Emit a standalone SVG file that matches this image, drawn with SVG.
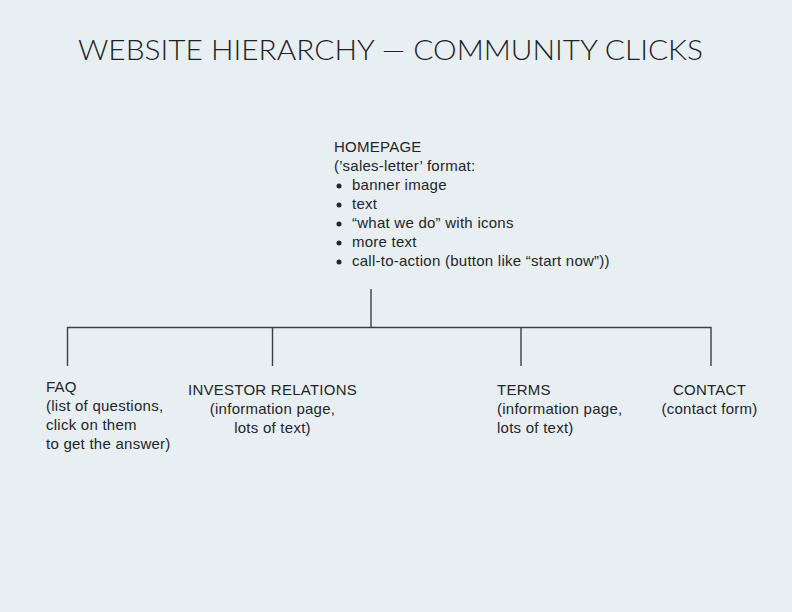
<svg xmlns="http://www.w3.org/2000/svg" width="792" height="612" viewBox="0 0 792 612">
  <style>
    .title { font-family: "Lato", "Liberation Sans", sans-serif; font-weight: 300; font-size: 28px; fill: #1e2226; }
    .lbl { font-family: "Liberation Sans", Arial, sans-serif; font-size: 15px; fill: #222629; letter-spacing: 0.25px; }
    .mid { text-anchor: middle; }
    .wire { fill: none; stroke: #3a3f42; stroke-width: 1.4; }
  </style>
  <rect x="0" y="0" width="792" height="612" fill="#e8eff2"/>

  <text class="title" x="78" y="60" textLength="625" lengthAdjust="spacingAndGlyphs">WEBSITE HIERARCHY — COMMUNITY CLICKS</text>

  <!-- tree connectors -->
  <g id="connectors">
    <path class="wire" d="M371 289 V327.5"/>
    <path class="wire" d="M67.5 366 V327.5 H711 V366"/>
    <path class="wire" d="M272.5 327.5 V366"/>
    <path class="wire" d="M521 327.5 V366"/>
  </g>

  <g id="homepage">
    <text class="lbl" x="334" y="152">HOMEPAGE</text>
    <text class="lbl" x="334" y="171">(’sales-letter’ format:</text>
    <g fill="#222629">
      <circle cx="339" cy="186" r="2.5"/>
      <circle cx="339" cy="205" r="2.5"/>
      <circle cx="339" cy="224" r="2.5"/>
      <circle cx="339" cy="243" r="2.5"/>
      <circle cx="339" cy="262" r="2.5"/>
    </g>
    <text class="lbl" x="352" y="190">banner image</text>
    <text class="lbl" x="352" y="209">text</text>
    <text class="lbl" x="352" y="228">“what we do” with icons</text>
    <text class="lbl" x="352" y="247">more text</text>
    <text class="lbl" x="352" y="266">call-to-action (button like “start now”))</text>
  </g>

  <g id="faq">
    <text class="lbl" x="46" y="392">FAQ</text>
    <text class="lbl" x="46" y="411">(list of questions,</text>
    <text class="lbl" x="46" y="430">click on them</text>
    <text class="lbl" x="46" y="449">to get the answer)</text>
  </g>

  <g id="investor-relations">
    <text class="lbl mid" x="272.5" y="395">INVESTOR RELATIONS</text>
    <text class="lbl mid" x="272.5" y="414">(information page,</text>
    <text class="lbl mid" x="272.5" y="433">lots of text)</text>
  </g>

  <g id="terms">
    <text class="lbl" x="497" y="395">TERMS</text>
    <text class="lbl" x="497" y="414">(information page,</text>
    <text class="lbl" x="497" y="433">lots of text)</text>
  </g>

  <g id="contact">
    <text class="lbl mid" x="709.5" y="395">CONTACT</text>
    <text class="lbl mid" x="709.5" y="414">(contact form)</text>
  </g>
</svg>
